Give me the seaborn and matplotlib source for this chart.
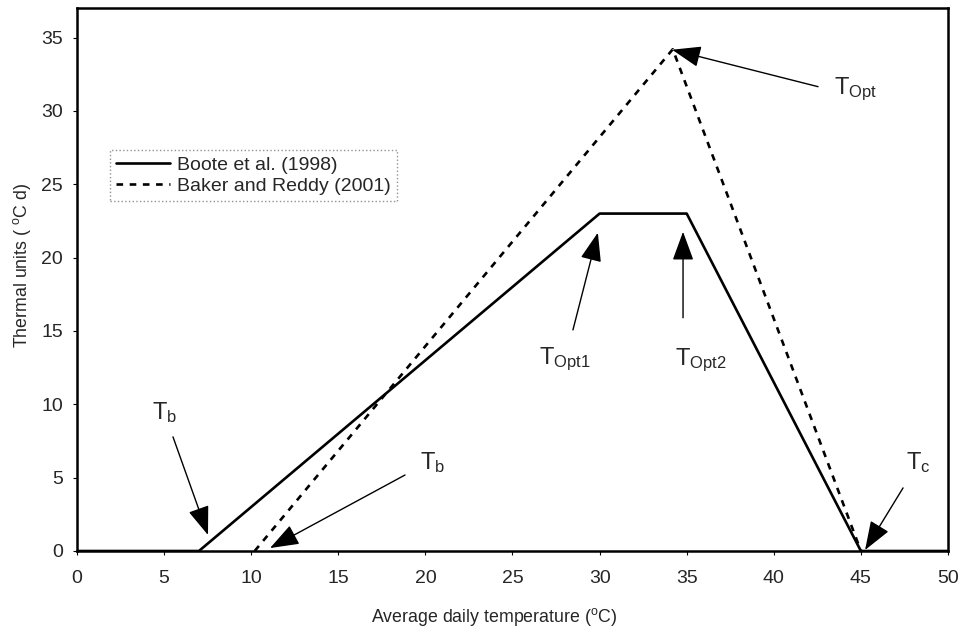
import matplotlib
matplotlib.use("Agg")
import matplotlib.pyplot as plt
import seaborn as sns
import pandas as pd

# Data
boote_x = [0, 7, 30, 35, 45, 50]
boote_y = [0, 0, 23, 23, 0, 0]
baker_x = [10.2, 34.2, 45]
baker_y = [0, 34.2, 0]

xticks = [0, 5, 10, 15, 20, 25, 30, 35, 40, 45, 50]
yticks = [0, 5, 10, 15, 20, 25, 30, 35]

sns.set_theme(style="white")
plt.rcParams['font.family'] = ['Liberation Sans', 'DejaVu Sans']
plt.rcParams['mathtext.fontset'] = 'custom'
plt.rcParams['mathtext.rm'] = 'Liberation Sans'
plt.rcParams['mathtext.it'] = 'Liberation Sans'

fig = plt.figure(figsize=(9.6, 6.3), dpi=100)
ax = fig.add_axes([0.0802, 0.1254, 0.9073, 0.8616])

df_b = pd.DataFrame({"x": boote_x, "y": boote_y})
df_k = pd.DataFrame({"x": baker_x, "y": baker_y})
sns.lineplot(data=df_b, x="x", y="y", ax=ax, color="black", linewidth=1.9,
             label="Boote et al. (1998)")
sns.lineplot(data=df_k, x="x", y="y", ax=ax, color="black", linewidth=1.9,
             dashes=False, label="Baker and Reddy (2001)")
ax.lines[1].set_linestyle((0, (2.5, 2.5)))

ax.set_xlim(0, 50)
ax.set_ylim(0, 37)
ax.set_xticks(xticks)
ax.set_yticks(yticks)
ax.tick_params(axis='both', labelsize=14, length=3, width=0.8, direction='out',
               color='black', bottom=True, left=True)
ax.tick_params(axis='x', pad=11)
ax.tick_params(axis='y', pad=7)
for s in ax.spines.values():
    s.set_color('black')
    s.set_linewidth(1.8)

ax.set_xlabel("Average daily temperature ($\\mathregular{^{o}}$C)", fontsize=12.8)
ax.set_ylabel("Thermal units ( $\\mathregular{^{o}}$C d)", fontsize=12.8)
ax.xaxis.set_label_coords(0.479, -0.1215)
ax.yaxis.set_label_coords(-0.063, 0.527)
ax.xaxis.label.set_va('center')
ax.yaxis.label.set_va('center')

leg = ax.legend(loc='upper left', bbox_to_anchor=(0.038, 0.7385), borderaxespad=0,
                fontsize=14, frameon=True, fancybox=False, handlelength=2.8,
                handletextpad=0.36, borderpad=0.3, labelspacing=0.2)
leg.get_frame().set_edgecolor('#777777')
leg.get_frame().set_linestyle(':')
leg.get_frame().set_linewidth(1.0)

arrowprops = dict(arrowstyle="-|>,head_length=1.5,head_width=0.55", color="black",
                  lw=1.0, shrinkA=0, shrinkB=0)
annots = [
    ("T$_{\\mathregular{b}}$", (5.0, 9.45), (5.51, 7.78), (7.52, 1.09)),
    ("T$_{\\mathregular{b}}$", (20.4, 6.05), (18.83, 5.18), (11.08, 0.2)),
    ("T$_{\\mathregular{Opt1}}$", (28.0, 13.1), (28.47, 15.07), (29.9, 21.7)),
    ("T$_{\\mathregular{Opt2}}$", (35.8, 13.0), (34.79, 15.9), (34.79, 21.76)),
    ("T$_{\\mathregular{Opt}}$", (44.7, 31.5), (42.54, 31.65), (34.16, 34.17)),
    ("T$_{\\mathregular{c}}$", (48.3, 6.05), (47.42, 4.3), (45.24, 0.07)),
]
for txt, lpos, tail, tip in annots:
    ax.annotate("", xy=tip, xytext=tail, arrowprops=arrowprops)
    ax.text(lpos[0], lpos[1], txt, fontsize=17, ha='center', va='center')

fig.savefig("out.png", dpi=100)
